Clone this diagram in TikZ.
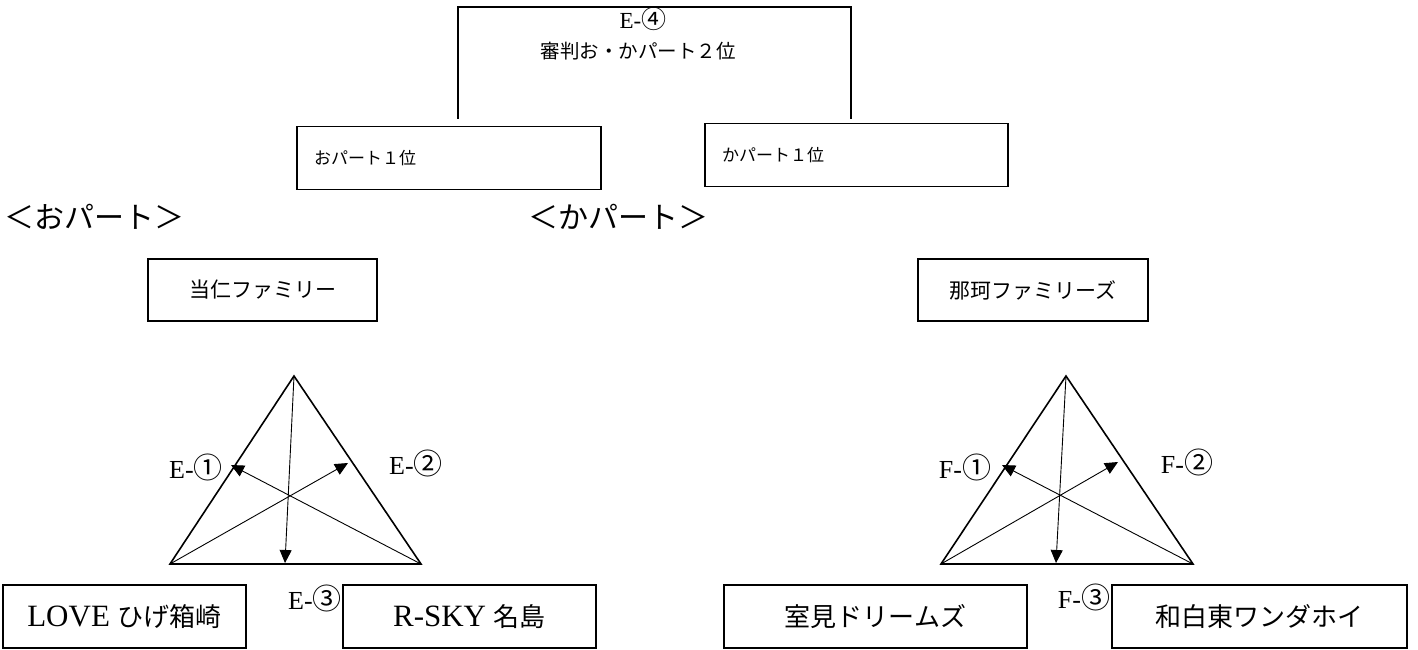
\documentclass[tikz,border=0pt]{standalone}
\usepackage{fontspec}
\setmainfont{Liberation Serif}
\newfontfamily\jp{Noto Sans CJK JP}
\usetikzlibrary{arrows.meta,calc}
\newcommand{\circnum}[1]{{\fontsize{29}{30}\selectfont\jp #1}}
\begin{document}
\begin{tikzpicture}[x=1pt,y=-1pt,
  box/.style={draw, line width=1.4pt, inner sep=0pt, font=\fontsize{21}{24}\selectfont},
  teambox/.style={draw, line width=1.4pt, inner sep=0pt, font=\fontsize{31}{33}\selectfont},
  smallbox/.style={draw, line width=1.4pt, inner ysep=0pt, inner xsep=17pt, align=left, font=\fontsize{17}{20}\selectfont},
  tri/.style={line width=1.6pt, line join=miter},
  arr/.style={line width=0.9pt, -{Triangle[length=13pt,width=12pt]}},
  lbl/.style={inner sep=0pt, font=\fontsize{26}{28}\selectfont},
  bigl/.style={inner sep=0pt, font=\fontsize{30}{32}\selectfont},
  topl/.style={inner sep=0pt, font=\fontsize{19.5}{22}\selectfont}]
\useasboundingbox (0,0) rectangle (1418,650);

% top bracket
\coordinate (bl) at (458,119);
\coordinate (tl) at (458,7);
\coordinate (tr) at (851,7);
\coordinate (br) at (851,119);
\draw[line width=1.4pt] (bl) -- (tl) -- (tr) -- (br);
\node[topl, font=\fontsize{23}{24}\selectfont] (e4) at (643,19) {E-{\fontsize{25}{25}\selectfont\jp ④}};
\node[topl] (judge) at (638,51) {\jp 審判お・かパート２位};

% first-place boxes
\node[smallbox, text width=270pt, minimum height=63pt] (o1) at (449,158) {\jp おパート１位};
\node[smallbox, text width=269pt, minimum height=63pt] (k1) at (856.5,155) {\jp かパート１位};

% part headings
\node[bigl, anchor=west] (ohead) at (4,217) {\jp ＜おパート＞};
\node[bigl, anchor=west] (khead) at (528,217) {\jp ＜かパート＞};

% family boxes
\node[box, minimum width=229pt, minimum height=62pt] (tj) at (262.5,290) {\jp 当仁ファミリー};
\node[box, minimum width=230pt, minimum height=62pt] (nk) at (1033,290) {\jp 那珂ファミリーズ};

% left triangle
\coordinate (A) at (294,376);
\coordinate (B) at (170,564);
\coordinate (C) at (421,564);
\coordinate (Ad) at (285,563);
\coordinate (Bt) at (348,463);
\coordinate (Ct) at (231,465);
\draw[tri] (A) -- (B) -- (C) -- cycle;
\draw[arr] (A) -- (Ad);
\draw[arr] (B) -- (Bt);
\draw[arr] (C) -- (Ct);
\node[lbl] (e1) at (196,467) {E-\circnum{①}};
\node[lbl] (e2) at (416,463) {E-\circnum{②}};
\node[lbl] (e3) at (315,598) {E-\circnum{③}};

% right triangle
\coordinate (P) at (1066,376);
\coordinate (Q) at (941,564);
\coordinate (R) at (1193,564);
\coordinate (Pd) at (1056,563);
\coordinate (Qt) at (1118,462);
\coordinate (Rt) at (1002,465);
\draw[tri] (P) -- (Q) -- (R) -- cycle;
\draw[arr] (P) -- (Pd);
\draw[arr] (Q) -- (Qt);
\draw[arr] (R) -- (Rt);
\node[lbl] (f1) at (965,467) {F-\circnum{①}};
\node[lbl] (f2) at (1187,462) {F-\circnum{②}};
\node[lbl] (f3) at (1084,597) {F-\circnum{③}};

% team boxes
\node[teambox, minimum width=243pt, minimum height=63pt] (love) at (124.5,616.5) {LOVE {\fontsize{26}{28}\selectfont\jp ひげ箱崎}};
\node[teambox, minimum width=253pt, minimum height=63pt] (rsky) at (469.5,616.5) {R-SKY {\fontsize{26}{28}\selectfont\jp 名島}};
\node[teambox, minimum width=303pt, minimum height=63pt] (muro) at (875.5,616.5) {\fontsize{26}{28}\selectfont\jp 室見ドリームズ};
\node[teambox, minimum width=295pt, minimum height=63pt] (waji) at (1259.5,616.5) {\fontsize{26}{28}\selectfont\jp 和白東ワンダホイ};
\end{tikzpicture}
\end{document}
